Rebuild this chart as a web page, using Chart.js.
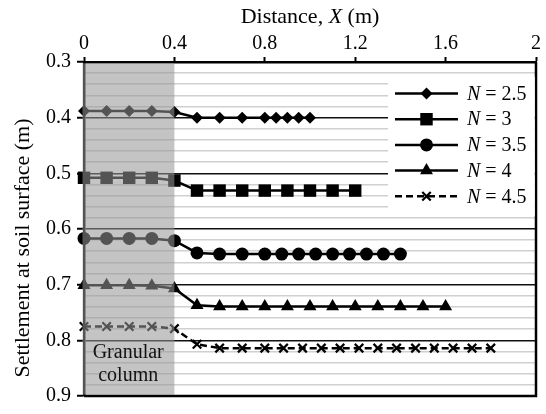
<!DOCTYPE html>
<html>
<head>
<meta charset="utf-8">
<script src="https://cdn.jsdelivr.net/npm/chart.js@4.4.0/dist/chart.umd.min.js"></script>
<style>
html,body{margin:0;padding:0;background:#fff}
</style>
</head>
<body>
<canvas id="myChart" width="546" height="414"></canvas>
<script>
// distances along the surface (m)
const xN25 = [0, 0.1, 0.2, 0.3, 0.4, 0.5, 0.6, 0.7, 0.8, 0.85, 0.9, 0.95, 1.0]
const xN3 = [0, 0.1, 0.2, 0.3, 0.4, 0.5, 0.6, 0.7, 0.8, 0.9, 1.0, 1.1, 1.2]
const xN35 = [0, 0.1, 0.2, 0.3, 0.4, 0.5, 0.6, 0.7, 0.8, 0.875, 0.95, 1.025, 1.1, 1.175, 1.25, 1.325, 1.4]
const xN4 = [0, 0.1, 0.2, 0.3, 0.4, 0.5, 0.6, 0.7, 0.8, 0.9, 1.0, 1.1, 1.2, 1.3, 1.4, 1.5, 1.6]
const xN45 = [0, 0.1, 0.2, 0.3, 0.4, 0.5, 0.6, 0.7, 0.8, 0.883, 0.967, 1.05, 1.133, 1.217, 1.3, 1.383, 1.467, 1.55, 1.633, 1.717, 1.8]

// settlement (m)
const yN25 = [0.388, 0.388, 0.388, 0.388, 0.39, 0.4, 0.4, 0.4, 0.4, 0.4, 0.4, 0.4, 0.4]
const yN3 = [0.508, 0.508, 0.508, 0.508, 0.513, 0.531, 0.531, 0.531, 0.531, 0.531, 0.531, 0.531, 0.531]
const yN35 = [0.617, 0.617, 0.617, 0.617, 0.621, 0.643, 0.645, 0.645, 0.645, 0.645, 0.645, 0.645, 0.645, 0.645, 0.645, 0.645, 0.645]
const yN4 = [0.701, 0.701, 0.701, 0.702, 0.707, 0.737, 0.739, 0.739, 0.739, 0.739, 0.739, 0.739, 0.739, 0.739, 0.739, 0.739, 0.739]
const yN45 = [0.775, 0.775, 0.775, 0.775, 0.779, 0.807, 0.814, 0.814, 0.814, 0.814, 0.814, 0.814, 0.814, 0.814, 0.814, 0.814, 0.814, 0.814, 0.814, 0.814, 0.814]

const nLabels = ['2.5', '3', '3.5', '4', '4.5']
const xTicks = [0, 0.4, 0.8, 1.2, 1.6, 2]
const yTicks = [0.3, 0.4, 0.5, 0.6, 0.7, 0.8, 0.9]
const yMinorStep = 0.02
const columnFrom = 0
const columnTo = 0.4

const serif = "'Liberation Serif', 'Times New Roman', serif"

let pares = (xs, ys) => xs.map((x, i) => ({x: x, y: ys[i]}))

const estilos = [
    {pointStyle: 'rectRot', pointRadius: 6, borderDash: []},
    {pointStyle: 'rect', pointRadius: 8.8, borderDash: []},
    {pointStyle: 'circle', pointRadius: 6.5, borderDash: []},
    {pointStyle: 'triangle', pointRadius: 7.5, borderDash: []},
    {pointStyle: 'crossRot', pointRadius: 6, borderDash: [7, 4]}
]
const todos = [[xN25, yN25], [xN3, yN3], [xN35, yN35], [xN4, yN4], [xN45, yN45]]

const datasets = todos.map((d, i) => ({
    label: 'N = ' + nLabels[i],
    data: pares(d[0], d[1]),
    borderColor: '#000',
    backgroundColor: '#000',
    pointBackgroundColor: '#000',
    pointBorderColor: '#000',
    pointBorderWidth: estilos[i].pointStyle == 'crossRot' ? 2.2 : 0,
    borderWidth: 2.5,
    borderDash: estilos[i].borderDash,
    pointStyle: estilos[i].pointStyle,
    pointRadius: estilos[i].pointRadius,
    pointHoverRadius: estilos[i].pointRadius,
    tension: 0,
    clip: false
}))

const esMayor = (v) => Math.abs(v * 10 - Math.round(v * 10)) < 1e-6

const columnaPlugin = {
    id: 'columna',
    afterDatasetsDraw(chart) {
        const {ctx, chartArea, scales} = chart
        const x0 = scales.x.getPixelForValue(columnFrom)
        const x1 = scales.x.getPixelForValue(columnTo)
        ctx.save()
        // granular column shading over everything
        ctx.fillStyle = 'rgba(150,150,150,0.56)'
        ctx.fillRect(x0 - 1.5, chartArea.top + 1.3, x1 - x0 + 1.5, chartArea.bottom - chartArea.top - 2.6)
        ctx.fillStyle = '#111'
        ctx.font = '20px ' + serif
        ctx.textAlign = 'center'
        ctx.textBaseline = 'alphabetic'
        const cx = (x0 + x1) / 2 - 1
        ctx.fillText('Granular', cx, chartArea.bottom - 38)
        ctx.fillText('column', cx, chartArea.bottom - 15)
        ctx.restore()
    },
    afterDraw(chart) {
        const {ctx, chartArea} = chart
        ctx.save()
        // bottom and right frame
        ctx.strokeStyle = '#000'
        ctx.lineWidth = 2.5
        ctx.beginPath()
        ctx.moveTo(chartArea.left, chartArea.bottom)
        ctx.lineTo(chartArea.right, chartArea.bottom)
        ctx.lineTo(chartArea.right, chartArea.top)
        ctx.stroke()

        // top title with italic X
        ctx.fillStyle = '#000'
        ctx.textBaseline = 'middle'
        const p1 = 'Distance, ', p2 = 'X', p3 = ' (m)'
        ctx.font = '22px ' + serif
        const w1 = ctx.measureText(p1).width, w3 = ctx.measureText(p3).width
        ctx.font = 'italic 22px ' + serif
        const w2 = ctx.measureText(p2).width
        let tx = (chartArea.left + chartArea.right) / 2 - (w1 + w2 + w3) / 2
        ctx.textAlign = 'left'
        ctx.font = '22px ' + serif
        ctx.fillText(p1, tx, 17)
        ctx.font = 'italic 22px ' + serif
        ctx.fillText(p2, tx + w1, 17)
        ctx.font = '22px ' + serif
        ctx.fillText(p3, tx + w1 + w2, 17)

        // y title
        ctx.save()
        ctx.translate(23, 248)
        ctx.rotate(-Math.PI / 2)
        ctx.textAlign = 'center'
        ctx.font = '22px ' + serif
        ctx.fillText('Settlement at soil surface (m)', 0, 0)
        ctx.restore()

        // legend
        const bx = 388, by = 77
        ctx.fillStyle = '#fff'
        ctx.fillRect(bx, by, chartArea.right - 1.3 - bx, 216 - by)
        chart.data.datasets.forEach((ds, i) => {
            const y = 93.5 + i * 25.7
            ctx.strokeStyle = '#000'
            ctx.lineWidth = 2.5
            ctx.setLineDash(ds.borderDash)
            ctx.beginPath()
            ctx.moveTo(395, y)
            ctx.lineTo(458, y)
            ctx.stroke()
            ctx.setLineDash([])
            ctx.fillStyle = '#000'
            ctx.lineWidth = ds.pointBorderWidth
            Chart.helpers.drawPoint(ctx, {pointStyle: ds.pointStyle, radius: ds.pointRadius, rotation: 0, borderWidth: ds.pointBorderWidth}, 426.5, y)
            ctx.textAlign = 'left'
            ctx.textBaseline = 'middle'
            ctx.font = 'italic 20px ' + serif
            ctx.fillText('N', 467, y + 1)
            const wn = ctx.measureText('N').width
            ctx.font = '20px ' + serif
            ctx.fillText(' = ' + nLabels[i], 467 + wn, y + 1)
        })
        ctx.restore()
    }
}

const config = {
    type: 'line',
    data: {datasets: datasets},
    options: {
        responsive: false,
        animation: false,
        devicePixelRatio: 1,
        layout: {padding: {left: 0, right: 10, top: 0, bottom: 11}},
        plugins: {legend: {display: false}, tooltip: {enabled: false}},
        scales: {
            x: {
                type: 'linear',
                position: 'top',
                min: 0,
                max: 2,
                afterFit: (s) => { s.height = 62 },
                afterBuildTicks: (s) => { s.ticks = xTicks.map(v => ({value: v})) },
                ticks: {
                    color: '#000',
                    font: {family: serif, size: 20},
                    padding: 1,
                    maxRotation: 0,
                    autoSkip: false,
                    callback: (v) => String(v)
                },
                grid: {drawOnChartArea: false, drawTicks: true, tickLength: 5, tickColor: '#000', tickWidth: 2},
                border: {display: true, color: '#000', width: 2.5}
            },
            y: {
                type: 'linear',
                reverse: true,
                min: 0.3,
                max: 0.9,
                afterFit: (s) => { s.width = 84 },
                afterBuildTicks: (s) => {
                    const t = []
                    for (let k = 0; k <= Math.round((yTicks[yTicks.length - 1] - yTicks[0]) / yMinorStep); k++) {
                        t.push({value: Math.round((yTicks[0] + k * yMinorStep) * 1000) / 1000})
                    }
                    s.ticks = t
                },
                ticks: {
                    color: '#000',
                    font: {family: serif, size: 20},
                    padding: 6,
                    autoSkip: false,
                    callback: (v) => esMayor(v) ? v.toFixed(1) : ''
                },
                grid: {
                    color: (c) => esMayor(c.tick.value) ? '#111' : '#d0d0d0',
                    lineWidth: (c) => esMayor(c.tick.value) ? 1.5 : 1.6,
                    tickColor: (c) => esMayor(c.tick.value) ? '#000' : 'rgba(0,0,0,0)',
                    tickWidth: 2,
                    tickLength: 7
                },
                border: {display: true, color: '#000', width: 2.5}
            }
        }
    },
    plugins: [columnaPlugin]
}

var myChart = new Chart(document.getElementById('myChart'), config)
</script>
</body>
</html>
